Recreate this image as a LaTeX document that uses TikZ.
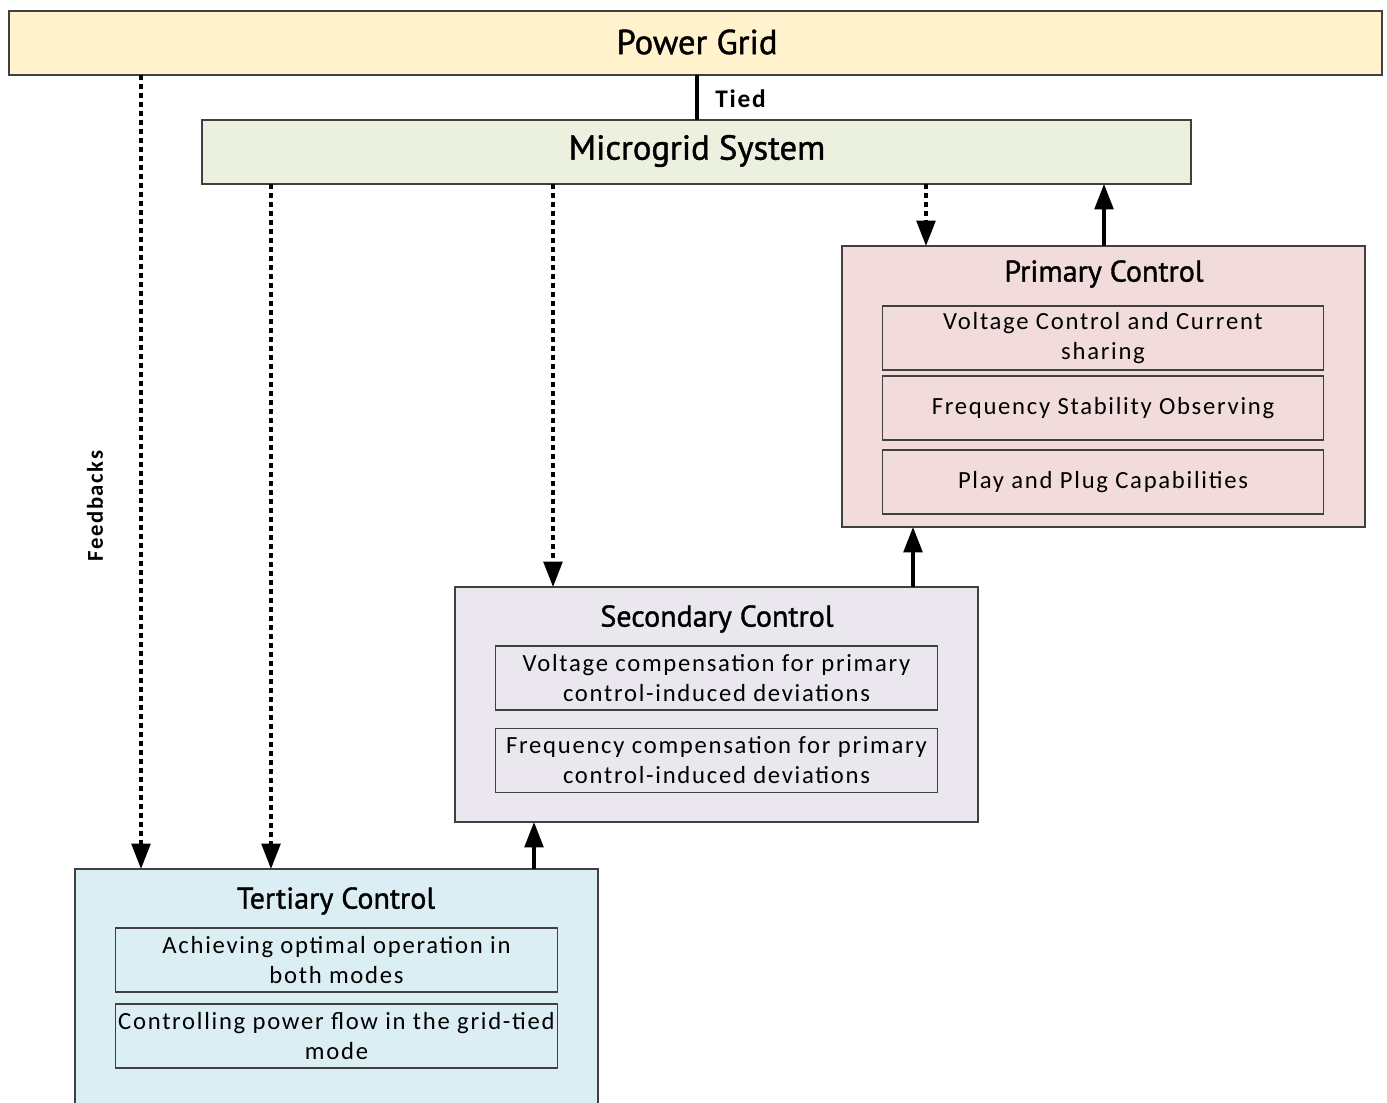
\documentclass[tikz,border=0pt]{standalone}
\usepackage{fontspec}
\setmainfont{Carlito}[LetterSpace=7]
\newfontfamily\headfont{PT Sans}[FakeBold=1.2]
\usetikzlibrary{arrows.meta}
\definecolor{pgfill}{HTML}{FFF2CC}
\definecolor{mgfill}{HTML}{EBF1DE}
\definecolor{pcfill}{HTML}{F2DCDB}
\definecolor{scfill}{HTML}{EAE7EF}
\definecolor{tcfill}{HTML}{DAEEF3}
\definecolor{edge}{HTML}{404040}
\tikzset{
  box/.style={draw=edge, line width=0.8pt, inner sep=0pt, outer sep=0pt},
  inbox/.style={draw=edge, line width=0.8pt, inner sep=0pt, outer sep=0pt, minimum width=331pt, minimum height=48pt, align=center, font=\fontsize{18.5}{22.5}\selectfont},
  head/.style={font=\headfont\fontsize{22.5}{26}\selectfont, inner sep=0pt},
  bighead/.style={font=\headfont\fontsize{26}{30}\selectfont, inner sep=0pt},
  dotarrow/.style={line width=2.6pt, dash pattern=on 3.75pt off 3pt, -{Triangle[length=19pt,width=14pt]}},
  solidarrow/.style={line width=2.6pt, -{Triangle[length=19pt,width=14pt]}},
  plain/.style={line width=2.6pt},
  lbl/.style={font=\bfseries\fontsize{17}{20}\selectfont, inner sep=0pt}
}
\begin{document}
\begin{tikzpicture}[x=0.75pt,y=-0.75pt]
\useasboundingbox (0,0) rectangle (1387,1102);
\clip (0,0) rectangle (1387,1102);
% main boxes
\node[box, fill=pgfill, minimum width=1029.75pt, minimum height=48pt] (pg) at (695.5,43) {};
\node[bighead] (pgt) at (697,42) {Power Grid};
\node[box, fill=mgfill, minimum width=741.75pt, minimum height=48pt] (mg) at (696.5,152) {};
\node[bighead] (mgt) at (697,151) {Microgrid System};
% primary
\node[box, fill=pcfill, minimum width=392.25pt, minimum height=210.75pt] (pc) at (1103.5,386.5) {};
\node[head] (pct) at (1104,274) {Primary Control};
\node[inbox] (p1) at (1103,338) {Voltage Control and Current\\sharing};
\node[inbox] (p2) at (1103,408) {Frequency Stability Observing};
\node[inbox] (p3) at (1103,482) {Play and Plug Capabilities};
% secondary
\node[box, fill=scfill, minimum width=392.25pt, minimum height=176.25pt] (sc) at (716.5,704.5) {};
\node[head] (sct) at (717,619) {Secondary Control};
\node[inbox] (s1) at (716.5,678) {Voltage compensation for primary\\control-induced deviations};
\node[inbox] (s2) at (716.5,760.5) {Frequency compensation for primary\\control-induced deviations};
% tertiary
\node[box, fill=tcfill, minimum width=392.25pt, minimum height=182.25pt] (tc) at (336.5,990.5) {};
\node[head] (tct) at (336,901) {Tertiary Control};
\node[inbox] (t1) at (336.5,960) {Achieving optimal operation in\\both modes};
\node[inbox] (t2) at (336.5,1036) {Controlling power flow in the grid-tied\\mode};
% x positions
\coordinate (xa) at (141,0);
\coordinate (xb) at (271,0);
\coordinate (xc) at (553,0);
\coordinate (xd) at (926,0);
\coordinate (xe) at (1104,0);
\coordinate (xf) at (913,0);
\coordinate (xg) at (534,0);
\coordinate (xt) at (697,0);
% connectors
\draw[plain] (pg.south -| xt) -- (mg.north -| xt);
\node[lbl, font=\bfseries\fontsize{19}{22}\selectfont, anchor=west] (tied) at (715,99) {Tied};
\draw[dotarrow] (pg.south -| xa) -- (tc.north -| xa);
\draw[dotarrow] (mg.south -| xb) -- (tc.north -| xb);
\draw[dotarrow] (mg.south -| xc) -- (sc.north -| xc);
\draw[dotarrow] (mg.south -| xd) -- (pc.north -| xd);
\draw[solidarrow] (pc.north -| xe) -- (mg.south -| xe);
\draw[solidarrow] (sc.north -| xf) -- (pc.south -| xf);
\draw[solidarrow] (tc.north -| xg) -- (sc.south -| xg);
\node[lbl, rotate=90] (fb) at (95,506) {Feedbacks};
\end{tikzpicture}
\end{document}
